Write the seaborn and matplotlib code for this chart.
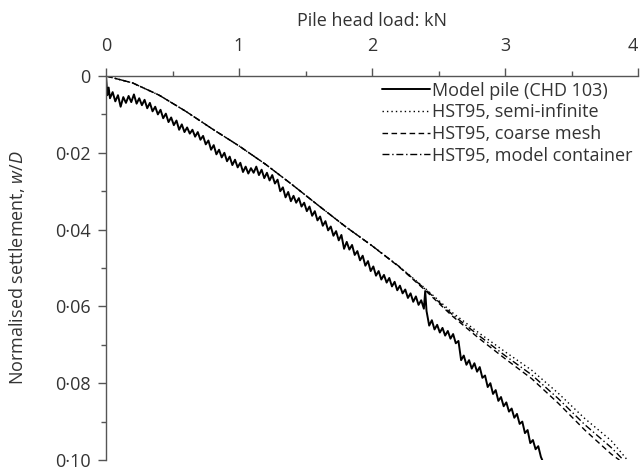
import matplotlib
matplotlib.use("Agg")
import matplotlib.pyplot as plt
import matplotlib.ticker as mticker
import seaborn as sns
import pandas as pd

# ---------------- data ----------------
model_load = [0.00, 0.01, 0.02, 0.03, 0.05, 0.07, 0.09, 0.11, 0.13, 0.15, 0.17, 0.19,
              0.21, 0.23, 0.25, 0.27, 0.29, 0.31, 0.33, 0.35, 0.37, 0.39, 0.41, 0.43,
              0.45, 0.47, 0.49, 0.51, 0.53, 0.55, 0.57, 0.59, 0.61, 0.63, 0.65, 0.67,
              0.69, 0.71, 0.73, 0.75, 0.77, 0.79, 0.81, 0.83, 0.85, 0.87, 0.89, 0.91,
              0.93, 0.95, 0.97, 0.99, 1.01, 1.03, 1.05, 1.07, 1.09, 1.11, 1.13, 1.15,
              1.17, 1.19, 1.21, 1.23, 1.25, 1.27, 1.29, 1.31, 1.33, 1.35, 1.37, 1.39,
              1.41, 1.43, 1.45, 1.47, 1.49, 1.51, 1.53, 1.55, 1.57, 1.59, 1.61, 1.63,
              1.65, 1.67, 1.69, 1.71, 1.73, 1.75, 1.77, 1.79, 1.81, 1.83, 1.85, 1.87,
              1.89, 1.91, 1.93, 1.95, 1.97, 1.99, 2.01, 2.03, 2.05, 2.07, 2.09, 2.11,
              2.13, 2.15, 2.17, 2.19, 2.21, 2.23, 2.25, 2.27, 2.29, 2.31, 2.33, 2.35,
              2.37, 2.39, 2.40, 2.41, 2.43, 2.45, 2.47, 2.49, 2.51, 2.53, 2.55, 2.57,
              2.59, 2.61, 2.63, 2.65, 2.67, 2.69, 2.71, 2.73, 2.75, 2.77, 2.79, 2.81,
              2.83, 2.85, 2.87, 2.89, 2.91, 2.93, 2.95, 2.97, 2.99, 3.01, 3.03, 3.05,
              3.07, 3.09, 3.11, 3.13, 3.15, 3.17, 3.19, 3.21, 3.23, 3.25, 3.27, 3.28]
model_settle = [0.0000, 0.0050, 0.0030, 0.0058, 0.0042, 0.0066, 0.0050, 0.0080, 0.0055, 0.0070, 0.0052, 0.0068,
                0.0048, 0.0072, 0.0058, 0.0076, 0.0062, 0.0084, 0.0070, 0.0092, 0.0080, 0.0100, 0.0088, 0.0110,
                0.0098, 0.0120, 0.0108, 0.0128, 0.0116, 0.0140, 0.0126, 0.0146, 0.0134, 0.0150, 0.0140, 0.0158,
                0.0146, 0.0166, 0.0156, 0.0178, 0.0168, 0.0192, 0.0180, 0.0204, 0.0192, 0.0212, 0.0200, 0.0222,
                0.0210, 0.0232, 0.0218, 0.0238, 0.0226, 0.0250, 0.0236, 0.0254, 0.0240, 0.0252, 0.0236, 0.0258,
                0.0244, 0.0266, 0.0252, 0.0272, 0.0258, 0.0280, 0.0270, 0.0300, 0.0290, 0.0316, 0.0302, 0.0326,
                0.0312, 0.0330, 0.0318, 0.0340, 0.0330, 0.0352, 0.0340, 0.0364, 0.0352, 0.0376, 0.0366, 0.0390,
                0.0378, 0.0402, 0.0392, 0.0416, 0.0404, 0.0428, 0.0414, 0.0450, 0.0432, 0.0452, 0.0440, 0.0466,
                0.0456, 0.0480, 0.0468, 0.0494, 0.0482, 0.0508, 0.0496, 0.0520, 0.0508, 0.0530, 0.0518, 0.0538,
                0.0526, 0.0548, 0.0536, 0.0558, 0.0546, 0.0566, 0.0556, 0.0578, 0.0566, 0.0588, 0.0574, 0.0596,
                0.0584, 0.0606, 0.0560, 0.0612, 0.0650, 0.0636, 0.0660, 0.0648, 0.0668, 0.0656, 0.0676, 0.0664,
                0.0684, 0.0672, 0.0696, 0.0690, 0.0740, 0.0728, 0.0752, 0.0740, 0.0762, 0.0748, 0.0770, 0.0758,
                0.0786, 0.0780, 0.0810, 0.0800, 0.0828, 0.0818, 0.0846, 0.0836, 0.0860, 0.0850, 0.0874, 0.0866,
                0.0890, 0.0880, 0.0906, 0.0900, 0.0930, 0.0922, 0.0956, 0.0948, 0.0972, 0.0964, 0.0992, 0.1000]

hst_load = [0.0, 0.2, 0.4, 0.6, 0.8, 1.0, 1.2, 1.4, 1.6, 1.8, 2.0, 2.2, 2.4, 2.6, 2.8,
            3.0, 3.2, 3.4, 3.6, 3.8]
semi_inf_settle = [0.0000, 0.0018, 0.0050, 0.0092, 0.0138, 0.0182, 0.0230, 0.0283, 0.0338, 0.0392,
                   0.0442, 0.0495, 0.0553, 0.0615, 0.0668, 0.0718, 0.0766, 0.0826, 0.0892, 0.0950]
coarse_settle = [0.0000, 0.0018, 0.0050, 0.0092, 0.0138, 0.0182, 0.0230, 0.0283, 0.0338, 0.0392,
                 0.0442, 0.0496, 0.0558, 0.0624, 0.0682, 0.0736, 0.0788, 0.0852, 0.0922, 0.0985]
container_settle = [0.0000, 0.0018, 0.0050, 0.0092, 0.0138, 0.0182, 0.0230, 0.0283, 0.0338, 0.0392,
                    0.0442, 0.0495, 0.0555, 0.0620, 0.0675, 0.0728, 0.0778, 0.0840, 0.0908, 0.0968]
hst_end_load = {"semi": 3.92, "coarse": 3.86, "container": 3.89}
hst_end_settle = 0.1000

series_labels = ["Model pile (CHD 103)", "HST95, semi-infinite",
                 "HST95, coarse mesh", "HST95, model container"]
x_ticks = [0, 1, 2, 3, 4]
y_ticks = [0.0, 0.02, 0.04, 0.06, 0.08, 0.10]
y_tick_labels = ["0", "0·02", "0·04", "0·06", "0·08", "0·10"]

# ---------------- style ----------------
sns.set_theme(style="white")
plt.rcParams["font.family"] = ["Open Sans", "DejaVu Sans"]
plt.rcParams["mathtext.fontset"] = "custom"
plt.rcParams["mathtext.rm"] = "Open Sans"
plt.rcParams["mathtext.it"] = "Open Sans:italic"
TXT = "#333333"
AX = "#555555"
FS = 13

fig = plt.figure(figsize=(6.41, 4.72), dpi=100)
ax = fig.add_axes([106 / 641, 1 - 460 / 472, (638 - 106) / 641, (460 - 76) / 472])

df_model = pd.DataFrame({"load": model_load, "settle": model_settle})
sns.lineplot(data=df_model, x="load", y="settle", ax=ax, sort=False, estimator=None,
             color="black", lw=1.4, linestyle="-", label=series_labels[0])

df_semi = pd.DataFrame({"load": hst_load + [hst_end_load["semi"]],
                        "settle": semi_inf_settle + [hst_end_settle]})
sns.lineplot(data=df_semi, x="load", y="settle", ax=ax, sort=False, estimator=None,
             color="black", lw=1.0, linestyle=(0, (1, 2.2)), label=series_labels[1])

df_coarse = pd.DataFrame({"load": hst_load + [hst_end_load["coarse"]],
                          "settle": coarse_settle + [hst_end_settle]})
sns.lineplot(data=df_coarse, x="load", y="settle", ax=ax, sort=False, estimator=None,
             color="black", lw=1.0, linestyle=(0, (4, 2.5)), label=series_labels[2])

df_cont = pd.DataFrame({"load": hst_load + [hst_end_load["container"]],
                        "settle": container_settle + [hst_end_settle]})
sns.lineplot(data=df_cont, x="load", y="settle", ax=ax, sort=False, estimator=None,
             color="black", lw=1.0, linestyle=(0, (5, 2, 1, 2)), label=series_labels[3])

ax.set_xlim(0, 4)
ax.set_ylim(0.10, 0.0)

ax.xaxis.set_label_position("top")
ax.xaxis.tick_top()
ax.set_xticks(x_ticks)
ax.set_xticklabels([str(t) for t in x_ticks])
ax.xaxis.set_minor_locator(mticker.MultipleLocator(0.5))
ax.set_yticks(y_ticks)
ax.set_yticklabels(y_tick_labels)
ax.yaxis.set_minor_locator(mticker.MultipleLocator(0.01))

ax.tick_params(axis="both", which="major", direction="out", length=6, width=1.0,
               color=AX, labelcolor=TXT, labelsize=FS)
ax.tick_params(axis="x", which="major", pad=9)
ax.tick_params(axis="y", which="major", pad=5)
ax.tick_params(axis="both", which="minor", direction="out", length=3.5, width=1.0, color=AX)
ax.tick_params(axis="x", which="both", top=True, bottom=False)
ax.tick_params(axis="y", which="both", left=True, right=False)

# keep the last top tick label inside the figure
ax.get_xticklabels()[-1].set_horizontalalignment("right")

for side in ["right", "bottom"]:
    ax.spines[side].set_visible(False)
for side in ["left", "top"]:
    ax.spines[side].set_color(AX)
    ax.spines[side].set_linewidth(1.0)

ax.set_xlabel("Pile head load: kN", fontsize=FS, color=TXT, labelpad=8)
ax.set_ylabel("Normalised settlement, $w/D$", fontsize=FS, color=TXT, labelpad=20)

leg = ax.legend(loc="upper right", bbox_to_anchor=(0.99, 0.985), frameon=False,
                fontsize=FS, handlelength=2.7, handletextpad=0.1, labelspacing=0.2,
                borderpad=0.0, borderaxespad=0.0)
for t in leg.get_texts():
    t.set_color(TXT)

fig.savefig("out.png", dpi=100)
